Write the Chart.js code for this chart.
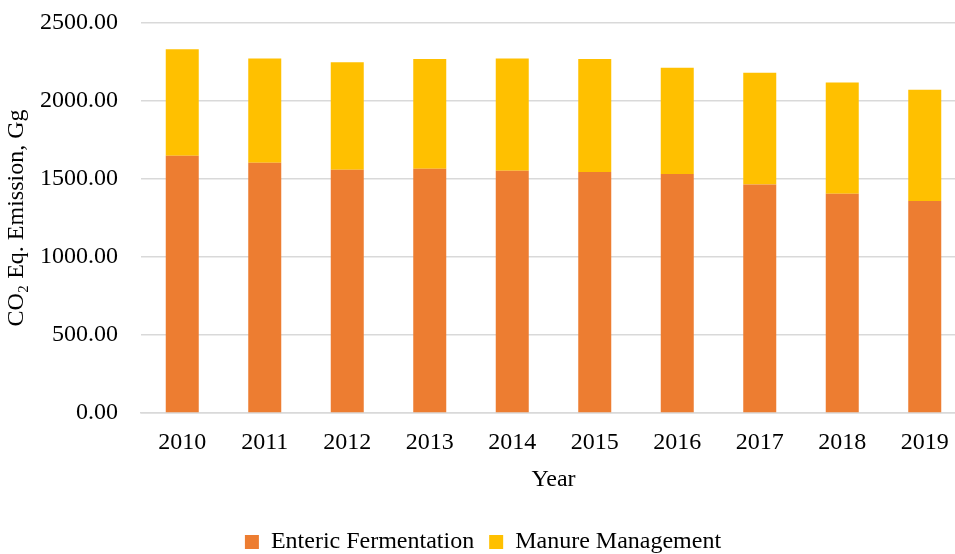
<!DOCTYPE html>
<html>
<head>
<meta charset="utf-8">
<script src="https://cdn.jsdelivr.net/npm/chart.js@4/dist/chart.umd.min.js"></script>
<style>
  html, body { margin: 0; padding: 0; background: #fff; overflow: hidden; }
  #wrap { width: 970px; height: 554px; }
</style>
</head>
<body>
<div id="wrap"><canvas id="emissions"></canvas></div>
<script>
// values (Gg CO2 eq.)
var years = ["2010", "2011", "2012", "2013", "2014", "2015", "2016", "2017", "2018", "2019"];
var enteric = [1649, 1604, 1560, 1566, 1553, 1545, 1532, 1464, 1406, 1359];
var manure = [683, 669, 689, 704, 720, 725, 681, 717, 713, 713];
var yTicks = [0, 500, 1000, 1500, 2000, 2500];

var serif = "'Liberation Serif', 'Times New Roman', serif";
Chart.defaults.font.family = serif;
Chart.defaults.font.size = 24;
Chart.defaults.color = "#000";

window.onload = function () {
    var ctx = document.getElementById("emissions").getContext('2d');
    new Chart(ctx, {
        type: 'bar',
        data: {
            labels: years,
            datasets: [{
                label: "Enteric Fermentation",
                data: enteric,
                backgroundColor: "#ED7D31",
                borderWidth: 0
            }, {
                label: "Manure Management",
                data: manure,
                backgroundColor: "#FFC000",
                borderWidth: 0
            }]
        },
        options: {
            responsive: true,
            maintainAspectRatio: false,
            animation: false,
            datasets: {
                bar: { barPercentage: 0.4, categoryPercentage: 1 }
            },
            // the plot runs a little past the right edge, as in the original
            layout: { padding: { top: 23, right: 4, left: 0, bottom: -10 } },
            plugins: {
                tooltip: { enabled: false },
                legend: {
                    position: 'bottom',
                    labels: {
                        boxWidth: 14,
                        boxHeight: 14,
                        padding: 15,
                        font: { size: 24, lineHeight: 0.5 }
                    }
                }
            },
            scales: {
                x: {
                    stacked: true,
                    grid: { display: false, drawTicks: false },
                    border: { color: "#d9d9d9", width: 1.5 },
                    ticks: { padding: 15 },
                    title: { display: true, text: "Year", padding: { top: 8, bottom: 21 } },
                    afterFit: function (scale) { scale.height = 102; }
                },
                y: {
                    stacked: true,
                    min: 0,
                    max: 2500,
                    afterBuildTicks: function (scale) {
                        scale.ticks = yTicks.map(function (v) { return { value: v }; });
                    },
                    grid: { color: "#d9d9d9", lineWidth: 1.5, drawTicks: false },
                    border: { display: false },
                    ticks: {
                        padding: 23,
                        callback: function (v) { return Number(v).toFixed(2); }
                    },
                    title: { display: true, text: "CO\u2082 Eq. Emission, Gg", padding: { top: 2, bottom: 0 } },
                    afterFit: function (scale) {
                        scale.width = 141;
                        scale.paddingTop = 0;
                        scale.paddingBottom = 0;
                    }
                }
            }
        }
    });
};
</script>
</body>
</html>
